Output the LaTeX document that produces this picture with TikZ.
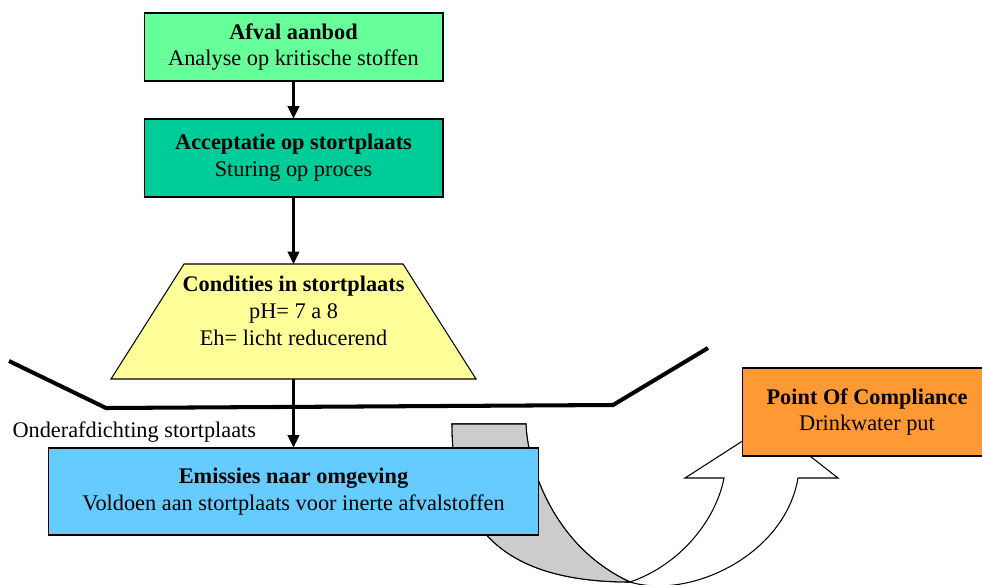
\documentclass[tikz,border=0pt]{standalone}
\usepackage{fontspec}
\setmainfont{Liberation Serif}
\usepackage{tikz}
\usetikzlibrary{arrows.meta}
\definecolor{aanbodgreen}{HTML}{66FF99}
\definecolor{acceptteal}{HTML}{00CC99}
\definecolor{condyellow}{HTML}{FFFF99}
\definecolor{emisblue}{HTML}{66CCFF}
\definecolor{pocorange}{HTML}{FF9933}
\definecolor{backgray}{HTML}{CCCCCC}

\begin{document}
\begin{tikzpicture}[x=0.02cm, y=-0.02cm, line width=0.6pt,
  font=\fontsize{12.7}{15.3}\selectfont,
  box/.style={draw, inner sep=0pt, align=center},
  flow/.style={-{Triangle[length=7pt,width=6.5pt]}, line width=1.4pt}]
%%%%% Frame %%%%%
\clip (0,0) rectangle (982,584);
%%%%% Curved arrow %%%%%
\draw[fill=white] (452,424) .. controls (452,520) and (495,582) .. (630,582)
  .. controls (690,600) and (785,555) .. (798,478) -- (838,478) -- (769,424)
  -- (685,478) -- (724,478) .. controls (716,520) and (680,565) .. (630,582)
  .. controls (550,545) and (527,460) .. (526,424) -- cycle;
\draw[fill=backgray] (452,424) -- (526,424) .. controls (527,460) and (550,545) .. (630,582)
  .. controls (495,582) and (452,520) .. (452,424) -- cycle;
%%%%% Boxes %%%%%
\node[box, fill=aanbodgreen, minimum width=5.98cm, minimum height=1.36cm] (aanbod) at (293.5,47)
  {\textbf{Afval aanbod}\\Analyse op kritische stoffen};
\node[box, fill=acceptteal, minimum width=5.98cm, minimum height=1.56cm] (accept) at (293.5,158)
  {\textbf{Acceptatie op stortplaats}\\Sturing op proces};
\draw[fill=condyellow] (184,264) -- (403,264) -- (476,379) -- (111,379) -- cycle;
\coordinate (condtop) at (293.5,264);
\coordinate (condbot) at (293.5,379);
\node[align=center, inner sep=0pt] (cond) at (293.5,311)
  {\textbf{Condities in stortplaats}\\pH= 7 a 8\\Eh= licht reducerend};
\node[box, fill=emisblue, minimum width=9.82cm, minimum height=1.74cm] (emis) at (293.5,491.5)
  {\textbf{Emissies naar omgeving}\\Voldoen aan stortplaats voor inerte afvalstoffen};
\node[box, fill=pocorange, minimum width=5cm, minimum height=1.76cm] (poc) at (867,412)
  {\textbf{Point Of Compliance}\\Drinkwater put};
%%%%% Liner %%%%%
\draw[line width=2.3pt] (9,361) -- (106,408) -- (613,405) -- (708,348);
\node[anchor=west, inner sep=0pt] (liner) at (12,432) {Onderafdichting stortplaats};
%%%%% Flow %%%%%
\draw[flow] (aanbod) -- (accept);
\draw[flow] (accept) -- (condtop);
\draw[flow] (condbot) -- (emis);
\end{tikzpicture}
\end{document}
